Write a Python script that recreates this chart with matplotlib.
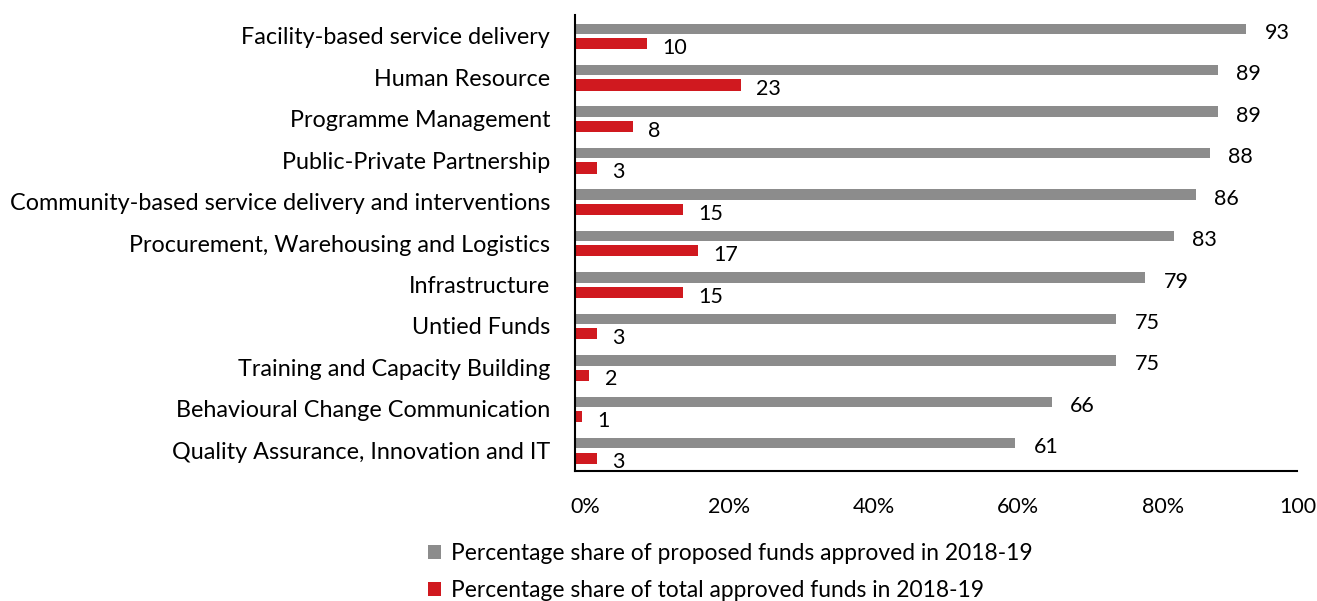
import matplotlib.pyplot as plt
import matplotlib.transforms as mtransforms
import numpy as np

plt.rcParams['font.family'] = ['Lato', 'DejaVu Sans']

categories = ["Facility-based service delivery", "Human Resource", "Programme Management",
              "Public-Private Partnership", "Community-based service delivery and interventions",
              "Procurement, Warehousing and Logistics", "Infrastructure", "Untied Funds",
              "Training and Capacity Building", "Behavioural Change Communication",
              "Quality Assurance, Innovation and IT"]
proposed_approved = [93, 89, 89, 88, 86, 83, 79, 75, 75, 66, 61]
total_approved = [10, 23, 8, 3, 15, 17, 15, 3, 2, 1, 3]
tick_vals = [0, 20, 40, 60, 80, 100]
tick_labels = ["0%", "20%", "40%", "60%", "80%", "100"]

gray = "#8c8c8c"
red = "#d0191f"

fig = plt.figure(figsize=(13.17, 6.01), dpi=100)
ax = fig.add_axes([0.4366, 0.2163, 0.5482, 0.7587])

y = np.arange(len(categories))
ax.barh(y - 0.17, proposed_approved, height=0.25, color=gray,
        label="Percentage share of proposed funds approved in 2018-19")
ax.barh(y + 0.19, total_approved, height=0.27, color=red,
        label="Percentage share of total approved funds in 2018-19")

for yi, v in zip(y, proposed_approved):
    ax.annotate(str(v), (v, yi - 0.17), xytext=(13, -3), textcoords="offset points",
                va="center", ha="left", fontsize=15.5)
for yi, v in zip(y, total_approved):
    ax.annotate(str(v), (v, yi + 0.19), xytext=(11, -3), textcoords="offset points",
                va="center", ha="left", fontsize=15.5)

ax.set_ylim(len(categories) - 0.5, -0.5)
ax.set_xlim(0, 100)
ax.set_yticks(y)
ax.set_yticklabels(categories, fontsize=16.8)
ax.tick_params(axis="y", length=0, pad=18)
ax.set_xticks(tick_vals)
ax.set_xticklabels(tick_labels, fontsize=15.5)
ax.tick_params(axis="x", length=0, pad=19)
for i, lbl in enumerate(ax.get_xticklabels()):
    shift = 10 if i < len(tick_vals) - 1 else 1
    offset = mtransforms.ScaledTranslation(shift / 100, 0, fig.dpi_scale_trans)
    lbl.set_transform(lbl.get_transform() + offset)

for s in ["top", "right"]:
    ax.spines[s].set_visible(False)
ax.spines["left"].set_linewidth(1.5)
ax.spines["bottom"].set_linewidth(1.5)

fig.legend(loc="upper left", bbox_to_anchor=(0.325, 0.097), frameon=False, fontsize=16.4,
           handlelength=0.55, handleheight=0.55, handletextpad=0.45, labelspacing=0.72,
           borderaxespad=0, borderpad=0)

fig.savefig("out.png", dpi=100)
